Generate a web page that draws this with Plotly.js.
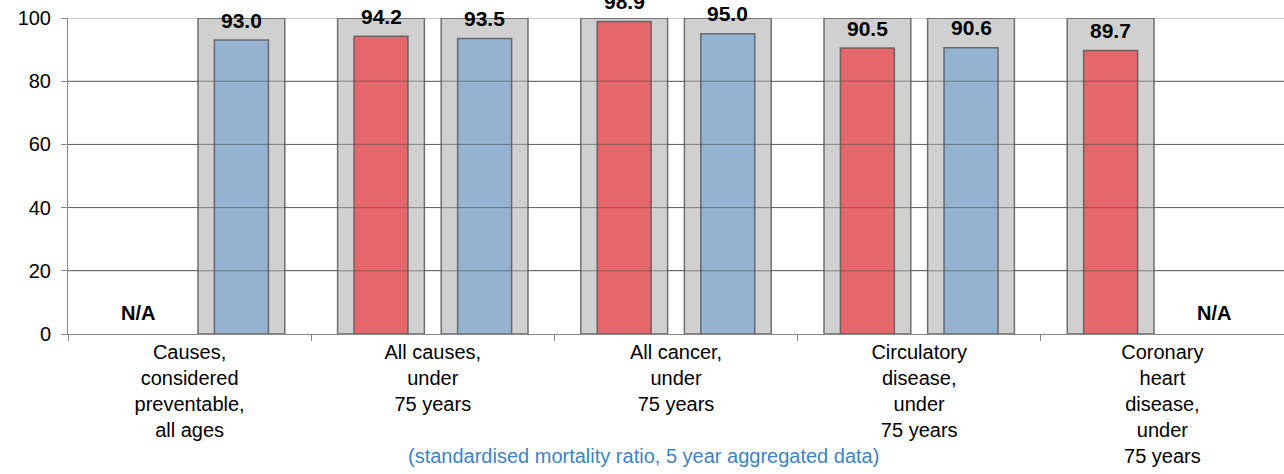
<!DOCTYPE html>
<html>
<head>
<meta charset="utf-8">
<script src="https://cdn.plot.ly/plotly-3.0.1.min.js"></script>
<style>html,body{margin:0;padding:0;background:#fff;}#chart{width:1284px;height:474px;}</style>
</head>
<body>
<div id="chart"></div>
<script>
// ---- data ----
const categories = [
  "Causes,<br>considered<br>preventable,<br>all ages",
  "All causes,<br>under<br>75 years",
  "All cancer,<br>under<br>75 years",
  "Circulatory<br>disease,<br>under<br>75 years",
  "Coronary<br>heart<br>disease,<br>under<br>75 years"
];
const redValues  = [null, 94.2, 98.9, 90.5, 89.7];
const blueValues = [93.0, 93.5, 95.0, 90.6, null];
const benchmark = 100;
const yTicks = [0, 20, 40, 60, 80, 100];
const footnote = "(standardised mortality ratio, 5 year aggregated data)";

// ---- styling ----
const FONT = "Arial, 'Liberation Sans', sans-serif";
const slotOffset = 0.213;     // category units from centre
const grayW = 0.357, barW = 0.222;
const redFill = "#e5676b", blueFill = "#95b3d0", grayFill = "#d0d0d0";
const edge = "rgba(90,90,90,0.85)";

const bench = arr => arr.map(v => v == null ? null : benchmark);

const traces = [
  {type:"bar", x:categories, y:bench(redValues), width:grayW, offset:-slotOffset-grayW/2,
   marker:{color:grayFill, line:{color:edge, width:1.5}}, hoverinfo:"skip"},
  {type:"bar", x:categories, y:bench(blueValues), width:grayW, offset:slotOffset-grayW/2,
   marker:{color:grayFill, line:{color:edge, width:1.5}}, hoverinfo:"skip"},
  {type:"bar", x:categories, y:redValues, width:barW, offset:-slotOffset-barW/2,
   marker:{color:redFill, line:{color:edge, width:1.5}}},
  {type:"bar", x:categories, y:blueValues, width:barW, offset:slotOffset-barW/2,
   marker:{color:blueFill, line:{color:edge, width:1.5}}}
];

const annotations = [];
function addLabels(vals, sign){
  vals.forEach((v, i) => {
    const x = i + sign*slotOffset;
    if (v == null) {
      annotations.push({xref:"x", yref:"y", x:x, y:0, text:"<b>N/A</b>", showarrow:false,
        yanchor:"middle", yshift:21, font:{family:FONT, size:20, color:"#000"}});
    } else {
      annotations.push({xref:"x", yref:"y", x:x, y:v, text:"<b>"+v.toFixed(1)+"</b>", showarrow:false,
        yanchor:"middle", yshift:20, font:{family:FONT, size:21, color:"#000"}});
    }
  });
}
addLabels(redValues, -1);
addLabels(blueValues, 1);
annotations.push({xref:"paper", yref:"paper", x:0.473, y:-0.385, text:footnote, showarrow:false,
  xanchor:"center", yanchor:"middle", font:{family:FONT, size:20, color:"#3d83c6"}});

const shapes = yTicks.filter(t => t > 0).map(t => ({type:"line", xref:"paper", yref:"y",
  x0:0, x1:1, y0:t, y1:t, layer:"above", line:{color:"rgba(70,70,70,0.55)", width:1}}));

const layout = {
  width:1284, height:474,
  margin:{l:68, r:0, t:18, b:140, pad:0},
  paper_bgcolor:"#fff", plot_bgcolor:"#fff",
  barmode:"overlay", showlegend:false,
  font:{family:FONT, size:20, color:"#000"},
  xaxis:{type:"category", range:[-0.5, 4.5], tickson:"boundaries", ticks:"outside", ticklen:6,
    tickcolor:"#888", showline:true, linecolor:"#888", linewidth:1, showgrid:false,
    tickfont:{family:FONT, size:20, color:"#000"}, fixedrange:true},
  yaxis:{range:[0, 100], tickvals:yTicks, ticks:"outside", ticklen:6, tickcolor:"#888",
    ticklabelstandoff:6,
    showline:true, linecolor:"#888", linewidth:1, showgrid:true, gridcolor:"#8a8a8a", gridwidth:1,
    zeroline:false, tickfont:{family:FONT, size:20, color:"#000"}, fixedrange:true},
  annotations:annotations,
  shapes:shapes
};

Plotly.newPlot("chart", traces, layout, {displayModeBar:false, staticPlot:true});
</script>
</body>
</html>
